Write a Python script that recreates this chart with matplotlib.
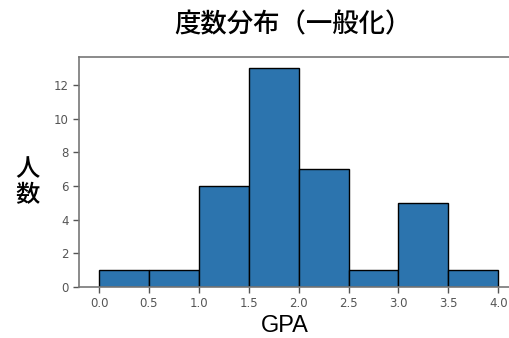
import numpy as np
import matplotlib
matplotlib.use('Agg')
import matplotlib.pyplot as plt

plt.rcParams['font.family'] = ['Noto Sans CJK JP', 'DejaVu Sans']

# GPA bins and counts
bin_edges = [0.0, 0.5, 1.0, 1.5, 2.0, 2.5, 3.0, 3.5, 4.0]
counts = [1, 1, 6, 13, 7, 1, 5, 1]
xticks = [0.0, 0.5, 1.0, 1.5, 2.0, 2.5, 3.0, 3.5, 4.0]
yticks = [0, 2, 4, 6, 8, 10, 12]

fig = plt.figure(figsize=(5.1, 3.38), dpi=100)
ax = fig.add_axes([0.155, 0.151, 0.861, 0.680])

ax.hist(bin_edges[:-1], bins=bin_edges, weights=counts,
        color='#2c74ae', edgecolor='black', linewidth=1.0)

ax.set_xlim(-0.2, 4.2)
ax.set_ylim(0, 13.65)
ax.set_xticks(xticks)
ax.set_xticklabels([f'{t:.1f}' for t in xticks], family='DejaVu Sans')
ax.set_yticks(yticks)
ax.set_yticklabels([str(t) for t in yticks], family='DejaVu Sans')
ax.tick_params(colors='#555555', labelsize=8.5, length=4, width=1)
for s in ax.spines.values():
    s.set_color('#777777')
    s.set_linewidth(1.2)
ax.spines['right'].set_visible(False)

ax.text(0.487, 1.139, '度数分布（一般化）', transform=ax.transAxes,
        fontsize=19, fontweight=500, ha='center', va='center')
ax.set_xlabel('GPA', fontsize=17, family='Liberation Sans', va='center')
ax.xaxis.set_label_coords(0.469, -0.172)
ax.set_ylabel('人\n数', fontsize=17.5, fontweight=500, rotation=0,
              va='center', ha='center', linespacing=1.0)
ax.yaxis.set_label_coords(-0.118, 0.458)

fig.savefig('out.png', dpi=100)
